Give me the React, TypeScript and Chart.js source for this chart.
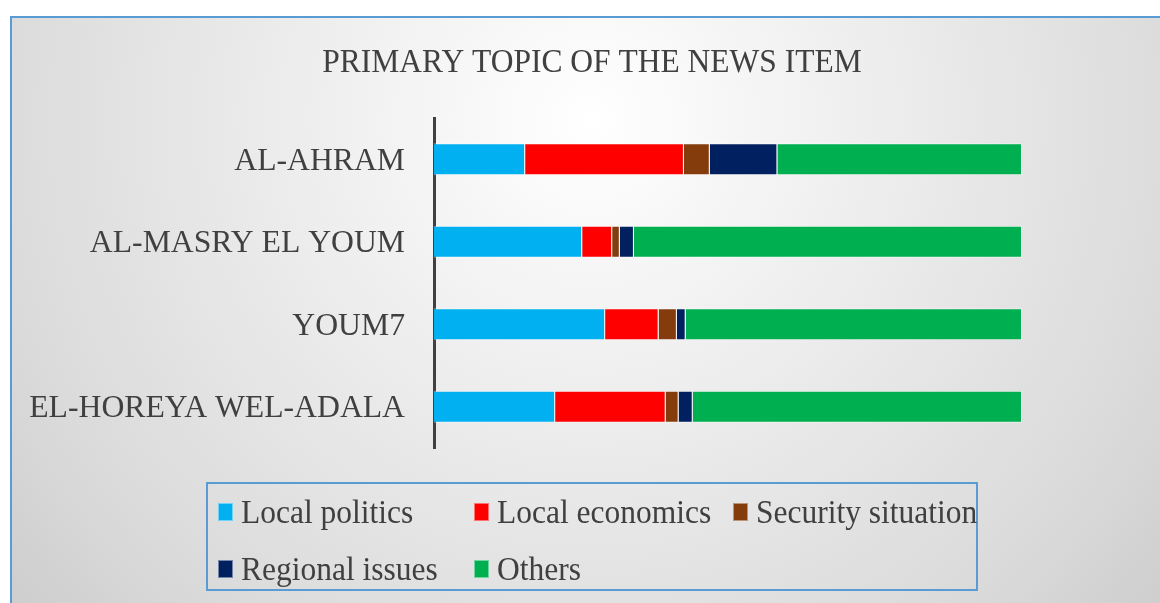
import React, { useEffect, useRef } from "react";
import { Chart, registerables } from "chart.js";

Chart.register(...registerables);

const categories = ["AL-AHRAM", "AL-MASRY EL YOUM", "YOUM7", "EL-HOREYA WEL-ADALA"];
const seriesNames = ["Local politics", "Local economics", "Security situation", "Regional issues", "Others"];
const localPolitics = [15.5, 25.2, 29.1, 20.6];
const localEconomics = [27.0, 5.1, 9.1, 18.8];
const securitySituation = [4.4, 1.3, 3.1, 2.2];
const regionalIssues = [11.5, 2.4, 1.5, 2.4];
const others = [41.6, 66.0, 57.2, 56.0];
const seriesColors = ["#00B0F0", "#FF0000", "#843C0C", "#002060", "#00B050"];
const chartTitle = "PRIMARY TOPIC OF THE NEWS ITEM";

const FONT = "'Liberation Serif', 'Times New Roman', serif";
const TEXT = "#404040";
const FRAME = "#5B9BD5";

function stretchedText(ctx: any, text: string, x: number, y: number, sy: number) {
  ctx.save();
  ctx.translate(x, y);
  ctx.scale(1, sy);
  ctx.fillText(text, 0, 0);
  ctx.restore();
}

const decorPlugin = {
  id: "decor",
  beforeDraw(chart: any) {
    const ctx = chart.ctx;
    ctx.save();
    const g = ctx.createRadialGradient(590, 120, 0, 590, 120, 760);
    g.addColorStop(0, "#ffffff");
    g.addColorStop(0.8, "#dadada");
    g.addColorStop(1, "#cdcdcd");
    ctx.fillStyle = g;
    ctx.fillRect(11, 18, 1200, 620);
    ctx.strokeStyle = FRAME;
    ctx.lineWidth = 2;
    ctx.beginPath();
    ctx.moveTo(11, 700);
    ctx.lineTo(11, 17);
    ctx.lineTo(1200, 17);
    ctx.stroke();
    // title
    ctx.fillStyle = TEXT;
    ctx.font = `31.5px ${FONT}`;
    ctx.textAlign = "center";
    ctx.textBaseline = "middle";
    stretchedText(ctx, chartTitle, 592, 63, 1.08);
    ctx.restore();
  },
  afterDraw(chart: any) {
    const ctx = chart.ctx;
    ctx.save();
    ctx.strokeStyle = FRAME;
    ctx.lineWidth = 2;
    ctx.strokeRect(207, 483, 770, 107);
    const cols = [218, 474, 733];
    const rows = [512, 569];
    ctx.font = `31.5px ${FONT}`;
    ctx.textAlign = "left";
    ctx.textBaseline = "middle";
    chart.data.datasets.forEach((ds: any, i: number) => {
      const x = cols[i % 3];
      const y = rows[Math.floor(i / 3)];
      ctx.fillStyle = ds.backgroundColor;
      ctx.fillRect(x, y - 9, 15, 18);
      ctx.strokeStyle = "rgba(255,255,255,0.45)";
      ctx.lineWidth = 1;
      ctx.strokeRect(x + 0.5, y - 8.5, 14, 17);
      ctx.fillStyle = TEXT;
      stretchedText(ctx, ds.label, x + 23, y + 2, 1.08);
    });
    ctx.restore();
  },
};

export default function App() {
  const ref = useRef<HTMLCanvasElement | null>(null);
  useEffect(() => {
    if (!ref.current) return;
    const values = [localPolitics, localEconomics, securitySituation, regionalIssues, others];
    const chart = new Chart(ref.current, {
      type: "bar",
      data: {
        labels: categories,
        datasets: seriesNames.map((name, i) => ({
          label: name,
          data: values[i],
          backgroundColor: seriesColors[i],
          borderColor: "rgba(255,255,255,0.45)",
          borderWidth: 1,
          barPercentage: 1,
          categoryPercentage: 0.39,
        })),
      },
      options: {
        indexAxis: "y",
        responsive: false,
        animation: false,
        layout: { padding: { left: 0, right: 138, top: 118, bottom: 155 } },
        plugins: {
          legend: { display: false },
          title: { display: false },
          tooltip: { enabled: false },
        },
        scales: {
          x: { stacked: true, min: 0, max: 100, display: false },
          y: {
            stacked: true,
            z: 1,
            grid: { display: false, drawTicks: false },
            border: { display: true, color: "#404040", width: 3 },
            ticks: {
              color: TEXT,
              padding: 29,
              labelOffset: 2,
              font: { family: FONT, size: 31.7 },
            },
            afterFit(scale: any) {
              scale.width = 434;
            },
          },
        },
      },
      plugins: [decorPlugin],
    } as any);
    return () => chart.destroy();
  }, []);
  return (
    <div style={{ position: "absolute", left: 0, top: 0, width: 1160, height: 603 }}>
      <canvas ref={ref} width={1160} height={603} />
    </div>
  );
}
